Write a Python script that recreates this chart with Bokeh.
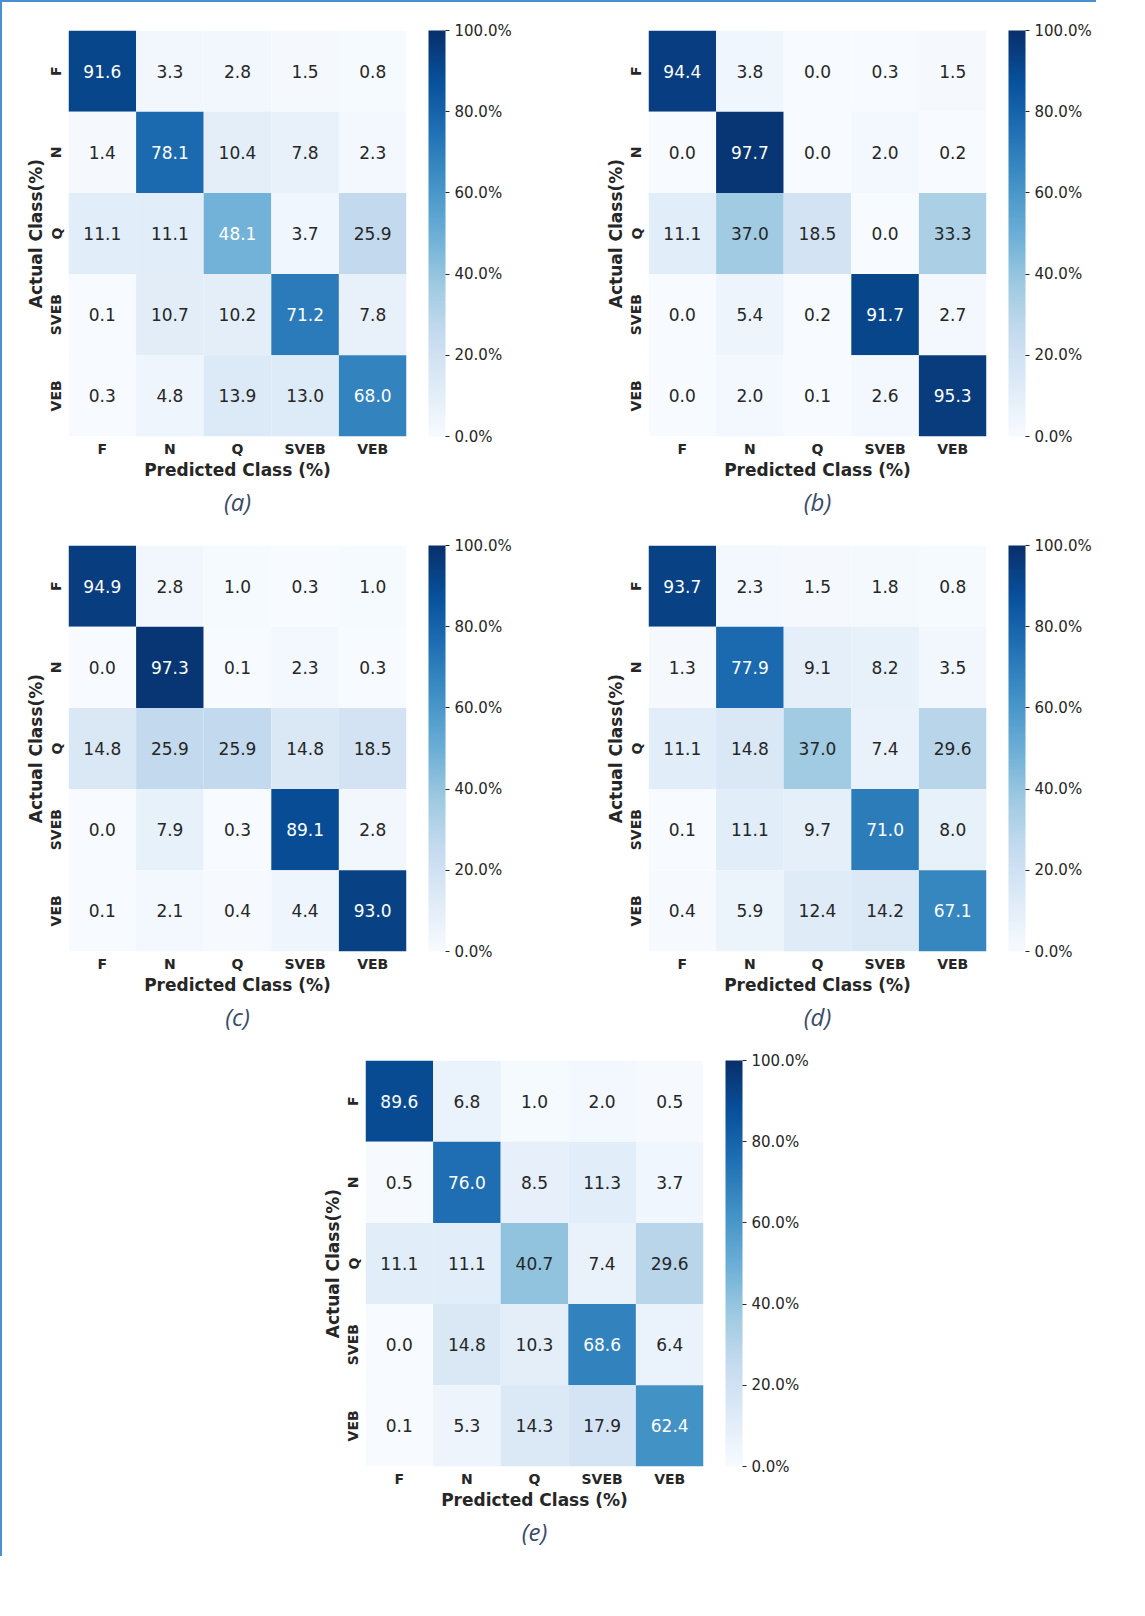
from bokeh.plotting import figure
from bokeh.layouts import column, row
from bokeh.models import (ColumnDataSource, LinearColorMapper, ColorBar, FixedTicker,
                          PrintfTickFormatter, Title, Spacer)
from bokeh.palettes import Blues256
from bokeh.embed import file_html
from bokeh.resources import INLINE

classes = ["F", "N", "Q", "SVEB", "VEB"]

mat_a = [[91.6, 3.3, 2.8, 1.5, 0.8],
         [1.4, 78.1, 10.4, 7.8, 2.3],
         [11.1, 11.1, 48.1, 3.7, 25.9],
         [0.1, 10.7, 10.2, 71.2, 7.8],
         [0.3, 4.8, 13.9, 13.0, 68.0]]
mat_b = [[94.4, 3.8, 0.0, 0.3, 1.5],
         [0.0, 97.7, 0.0, 2.0, 0.2],
         [11.1, 37.0, 18.5, 0.0, 33.3],
         [0.0, 5.4, 0.2, 91.7, 2.7],
         [0.0, 2.0, 0.1, 2.6, 95.3]]
mat_c = [[94.9, 2.8, 1.0, 0.3, 1.0],
         [0.0, 97.3, 0.1, 2.3, 0.3],
         [14.8, 25.9, 25.9, 14.8, 18.5],
         [0.0, 7.9, 0.3, 89.1, 2.8],
         [0.1, 2.1, 0.4, 4.4, 93.0]]
mat_d = [[93.7, 2.3, 1.5, 1.8, 0.8],
         [1.3, 77.9, 9.1, 8.2, 3.5],
         [11.1, 14.8, 37.0, 7.4, 29.6],
         [0.1, 11.1, 9.7, 71.0, 8.0],
         [0.4, 5.9, 12.4, 14.2, 67.1]]
mat_e = [[89.6, 6.8, 1.0, 2.0, 0.5],
         [0.5, 76.0, 8.5, 11.3, 3.7],
         [11.1, 11.1, 40.7, 7.4, 29.6],
         [0.0, 14.8, 10.3, 68.6, 6.4],
         [0.1, 5.3, 14.3, 17.9, 62.4]]
captions = ["(a)", "(b)", "(c)", "(d)", "(e)"]

FONT = "DejaVu Sans"


def heatmap(mat, caption, right=176, bottom=60):
    xs, ys, vals, labels, tcol = [], [], [], [], []
    for i, actual in enumerate(classes):
        for j, pred in enumerate(classes):
            v = mat[i][j]
            xs.append(pred); ys.append(actual); vals.append(v)
            labels.append("%.1f" % v)
            tcol.append("white" if v > 45 else "#262626")
    src = ColumnDataSource(dict(x=xs, y=ys, v=vals, t=labels, c=tcol))
    mapper = LinearColorMapper(palette=Blues256[::-1], low=0, high=100)

    p = figure(x_range=classes, y_range=classes[::-1],
               frame_width=338, frame_height=406,
               output_backend="svg", toolbar_location=None,
               min_border_left=66, min_border_right=right, min_border_top=28,
               min_border_bottom=bottom)
    p.rect("x", "y", 1, 1, source=src, fill_color={"field": "v", "transform": mapper},
           line_color=None)
    p.text("x", "y", text="t", source=src, text_color="c", text_align="center",
           text_baseline="middle", text_font_size="17px", text_font={"value": FONT})
    p.outline_line_color = None
    p.grid.visible = False
    for ax in (p.xaxis[0], p.yaxis[0]):
        ax.axis_line_color = None
        ax.major_tick_line_color = None
        ax.major_tick_out = 0
        ax.major_label_text_font = FONT
        ax.major_label_text_font_style = "bold"
        ax.major_label_text_font_size = "14px"
        ax.major_label_text_color = "#262626"
        ax.axis_label_text_font = FONT
        ax.axis_label_text_font_style = "bold"
        ax.axis_label_text_font_size = "17px"
        ax.axis_label_text_color = "#262626"
        ax.axis_label_standoff = 0
        ax.major_label_standoff = 4
    p.xaxis.axis_label = "Predicted Class (%)"
    p.yaxis.axis_label = "Actual Class(%)"
    p.yaxis.major_label_orientation = "vertical"

    cb = ColorBar(color_mapper=mapper, width=17, height=406, padding=0, margin=0,
                  location=(360, 0),
                  ticker=FixedTicker(ticks=[0, 20, 40, 60, 80, 100]),
                  formatter=PrintfTickFormatter(format="%.1f%%"),
                  major_label_text_font=FONT, major_label_text_font_size="15px",
                  major_label_text_color="#262626",
                  major_tick_line_color="#262626", major_tick_out=4, major_tick_in=0,
                  bar_line_color=None, border_line_color=None,
                  background_fill_alpha=0)
    p.add_layout(cb, "center")
    cap = Title(text=caption, align="center", text_font="Open Sans",
                text_font_style="italic", text_font_size="24px",
                text_color="#3a4a6a", standoff=0)
    p.add_layout(cap, "below")
    return p


pa = heatmap(mat_a, captions[0])
pb = heatmap(mat_b, captions[1], right=110)
pc = heatmap(mat_c, captions[2])
pd_ = heatmap(mat_d, captions[3], right=110)
pe = heatmap(mat_e, captions[4], right=110, bottom=90)

layout = column(row(pa, pb), row(pc, pd_), row(Spacer(width=297), pe),
                styles={"border-left": "2px solid #4a90d0", "border-top": "2px solid #4a90d0"})
open("out.html", "w").write(file_html(layout, INLINE))
